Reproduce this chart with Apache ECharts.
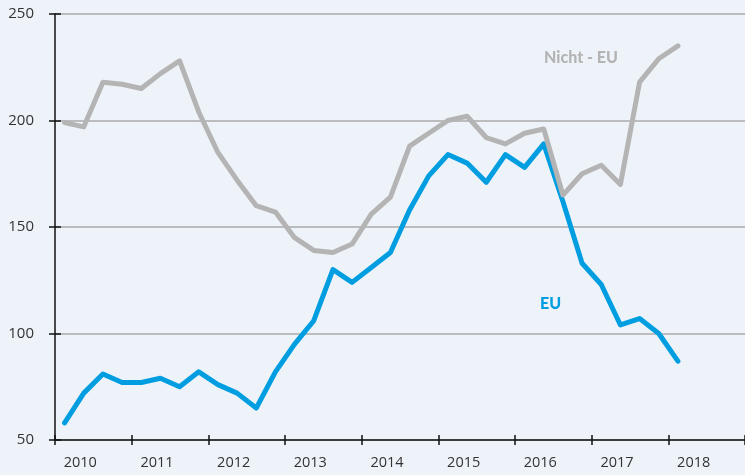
<!DOCTYPE html>
<html>
<head>
<meta charset="utf-8">
<script src="https://cdn.jsdelivr.net/npm/echarts@6/dist/echarts.min.js"></script>
<style>
  html, body { margin: 0; padding: 0; background: #eef3fa; }
  #chart { width: 745px; height: 475px; }
</style>
</head>
<body>
<div id="chart"></div>
<script>
// Jahre (Achsenbeschriftung) und Quartalswerte ab 2010 Q1
const years = ['2010', '2011', '2012', '2013', '2014', '2015', '2016', '2017', '2018']
const quarters = years.flatMap(y => ['Q1', 'Q2', 'Q3', 'Q4'].map(q => y + ' ' + q))

const euValues = [
  58, 72, 81, 77, 77, 79, 75, 82,
  76, 72, 65, 82, 95, 106, 130, 124,
  131, 138, 158, 174, 184, 180, 171, 184,
  178, 189, 162, 133, 123, 104, 107, 100,
  87
]
const nonEuValues = [
  199, 197, 218, 217, 215, 222, 228, 204,
  185, 172, 160, 157, 145, 139, 138, 142,
  156, 164, 188, 194, 200, 202, 192, 189,
  194, 196, 165, 175, 179, 170, 218, 229,
  235
]
const yTicks = { min: 50, max: 250, interval: 50 }

const BLUE = '#009ee0'
const GREY = '#b4b4b4'
const FONT = 'Open Sans'

const chart = echarts.init(document.getElementById('chart'))

const yearAxis = (inside) => ({
  type: 'category',
  data: years,
  position: 'bottom',
  boundaryGap: true,
  axisLine: { show: !inside, lineStyle: { color: '#111', width: 1.5 } },
  axisTick: { show: true, inside: inside, length: 5, lineStyle: { color: '#111', width: 1.5 } },
  axisLabel: {
    show: !inside,
    color: '#333',
    fontFamily: FONT,
    fontSize: 14.5,
    margin: 15,
    padding: [0, 26, 0, 0]
  },
  splitLine: { show: false }
})

const valueAxis = (inside) => ({
  type: 'value',
  min: yTicks.min,
  max: yTicks.max,
  interval: yTicks.interval,
  position: 'left',
  axisLine: { show: !inside, lineStyle: { color: '#111', width: 1.5 } },
  axisTick: { show: true, inside: inside, length: 6, lineStyle: { color: '#111', width: 1.5 } },
  axisLabel: { show: !inside, color: '#333', fontFamily: FONT, fontSize: 15, margin: 21 },
  splitLine: { show: !inside, lineStyle: { color: '#aaaaaa', width: 1.5 } }
})

const option = {
  backgroundColor: '#eef3fa',
  animation: false,
  grid: { left: 55, top: 14, width: 692, height: 426 },
  xAxis: [
    yearAxis(false),
    yearAxis(true),
    { type: 'category', data: quarters, boundaryGap: true, show: false }
  ],
  yAxis: [valueAxis(false), valueAxis(true)],
  series: [
    {
      name: 'EU',
      type: 'line',
      xAxisIndex: 2,
      data: euValues,
      symbol: 'none',
      lineStyle: { color: BLUE, width: 5, cap: 'round', join: 'round' },
      z: 2
    },
    {
      name: 'Nicht-EU',
      type: 'line',
      xAxisIndex: 2,
      data: nonEuValues,
      symbol: 'none',
      lineStyle: { color: GREY, width: 5, cap: 'round', join: 'round' },
      z: 3
    }
  ],
  graphic: [
    {
      type: 'text', left: 544, top: 50,
      style: { text: 'Nicht - EU', fill: GREY, font: '900 16px Lato' }
    },
    {
      type: 'text', left: 540, top: 296,
      style: { text: 'EU', fill: BLUE, font: '900 16px Lato' }
    }
  ]
}

chart.setOption(option)
</script>
</body>
</html>
